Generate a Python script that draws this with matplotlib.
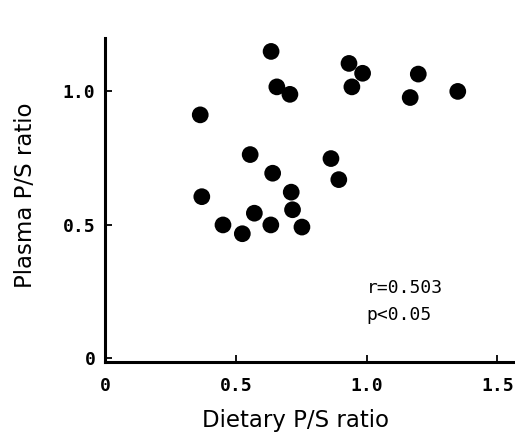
import matplotlib.pyplot as plt

# Dietary vs plasma P/S ratio
dietary_ps = [0.635, 0.657, 0.707, 0.933, 0.985, 0.944, 1.198, 1.167, 1.349,
              0.364, 0.555, 0.864, 0.641, 0.894, 0.712, 0.370, 0.717, 0.571,
              0.451, 0.634, 0.753, 0.525]
plasma_ps = [1.150, 1.017, 0.989, 1.105, 1.068, 1.017, 1.065, 0.977, 1.000,
             0.912, 0.763, 0.748, 0.693, 0.669, 0.622, 0.605, 0.556, 0.543,
             0.499, 0.499, 0.491, 0.466]
x_ticks = [0, 0.5, 1.0, 1.5]
x_tick_labels = ['0', '0.5', '1.0', '1.5']
y_ticks = [0, 0.5, 1.0]
y_tick_labels = ['0', '0.5', '1.0']

mono = 'DejaVu Sans Mono'

fig = plt.figure(figsize=(5.15, 4.43), dpi=100)
ax = fig.add_axes([0.204, 0.183, 0.792, 0.731])

ax.scatter(dietary_ps, plasma_ps, s=145, color='black', edgecolors='none', zorder=3)

ax.set_xlim(0.008, 1.56)
ax.set_ylim(-0.015, 1.2)

ax.spines['top'].set_visible(False)
ax.spines['right'].set_visible(False)
for side in ('left', 'bottom'):
    ax.spines[side].set_linewidth(2.2)

ax.set_xticks(x_ticks)
ax.set_xticklabels(x_tick_labels, family=mono, fontsize=13, fontweight='bold')
ax.set_yticks(y_ticks)
ax.set_yticklabels(y_tick_labels, family=mono, fontsize=13, fontweight='bold')
ax.tick_params(direction='in', length=5, width=1.3)
ax.tick_params(axis='x', pad=11)
ax.tick_params(axis='y', pad=7)

# axis titles placed where they sit in the original
fig.text(296 / 515, 1 - 420 / 443, 'Dietary P/S ratio', fontsize=16.5,
         ha='center', va='center')
fig.text(26 / 515, 1 - 195 / 443, 'Plasma P/S ratio', fontsize=16.5,
         rotation=90, ha='center', va='center')

ax.text(1.0, 0.244, 'r=0.503', family=mono, fontsize=13, ha='left', va='baseline')
ax.text(1.0, 0.1425, 'p<0.05', family=mono, fontsize=13, ha='left', va='baseline')

fig.savefig('out.png', dpi=100)
